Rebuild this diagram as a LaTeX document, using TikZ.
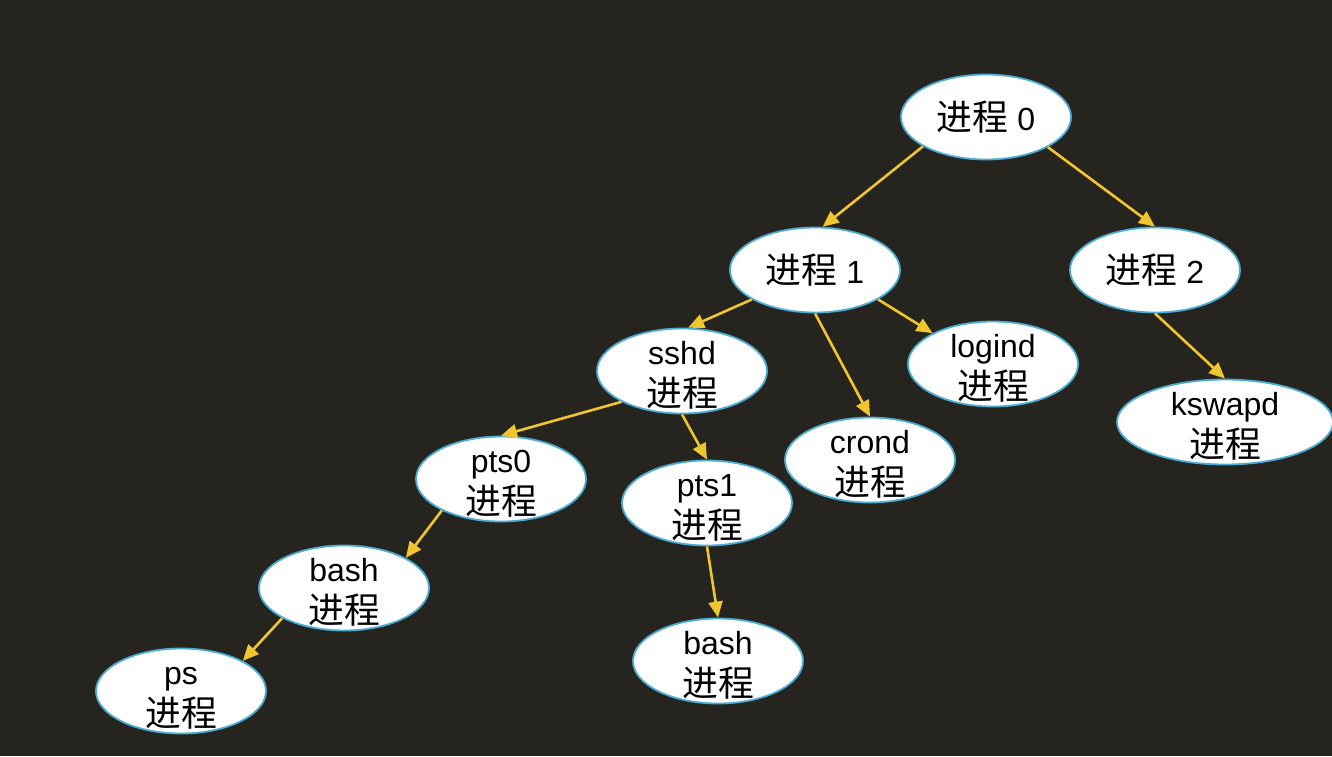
\documentclass[tikz,border=0pt]{standalone}
\usepackage{fontspec}
\setmainfont{Liberation Sans}
\newfontfamily\cjk{Noto Sans CJK SC}[Scale=1.12]
\usetikzlibrary{shapes.geometric,arrows.meta}
\definecolor{bgcol}{HTML}{26241E}
\definecolor{edgecol}{HTML}{F0C630}
\definecolor{bordercol}{HTML}{4AADD6}
\newcommand{\jc}{{\cjk 进程}}
\newcommand{\topstrut}{\rule{0pt}{31pt}}
\begin{document}
\begin{tikzpicture}[x=1pt,y=-1pt,
  proc/.style={ellipse,fill=white,draw=bordercol,line width=1.8pt,
    minimum width=170pt,minimum height=85pt,inner xsep=0pt,inner ysep=-12pt,
    align=center,text=black,font=\fontsize{32}{42}\selectfont},
  link/.style={draw=edgecol,line width=2.6pt,-{Triangle[length=16pt,width=14pt]}}]
\fill[bgcol] (0,0) rectangle (1332,756);
\useasboundingbox (0,0) rectangle (1332,756);
\node[proc] (p0) at (986,117) {\jc{} 0};
\node[proc] (p1) at (815,270) {\jc{} 1};
\node[proc] (p2) at (1155,270) {\jc{} 2};
\node[proc] (sshd) at (682,371) {\topstrut sshd\\\jc};
\node[proc] (logind) at (993,364) {\topstrut logind\\\jc};
\node[proc] (crond) at (870,460) {\topstrut crond\\\jc};
\node[proc,minimum width=216pt] (kswapd) at (1225,422) {\topstrut kswapd\\\jc};
\node[proc] (pts0) at (501,479) {\topstrut pts0\\\jc};
\node[proc] (pts1) at (707,503) {\topstrut pts1\\\jc};
\node[proc] (bashA) at (344,588) {\topstrut bash\\\jc};
\node[proc] (bashB) at (718,661) {\topstrut bash\\\jc};
\node[proc] (ps) at (181,691) {\topstrut ps\\\jc};
\draw[link] (p0.205) -- (p1.80);
\draw[link] (p0.334) -- (p2.north);
\draw[link] (p1.205) -- (sshd.82);
\draw[link] (p1.south) -- (crond.north);
\draw[link] (p1.335) -- (logind.153);
\draw[link] (p2.south) -- (kswapd.north);
\draw[link] (sshd.207) -- (pts0.north);
\draw[link] (sshd.south) -- (pts1.north);
\draw[link] (pts0.208) -- (bashA.26);
\draw[link] (pts1.south) -- (bashB.north);
\draw[link] (bashA.206) -- (ps.26);
\end{tikzpicture}
\end{document}
